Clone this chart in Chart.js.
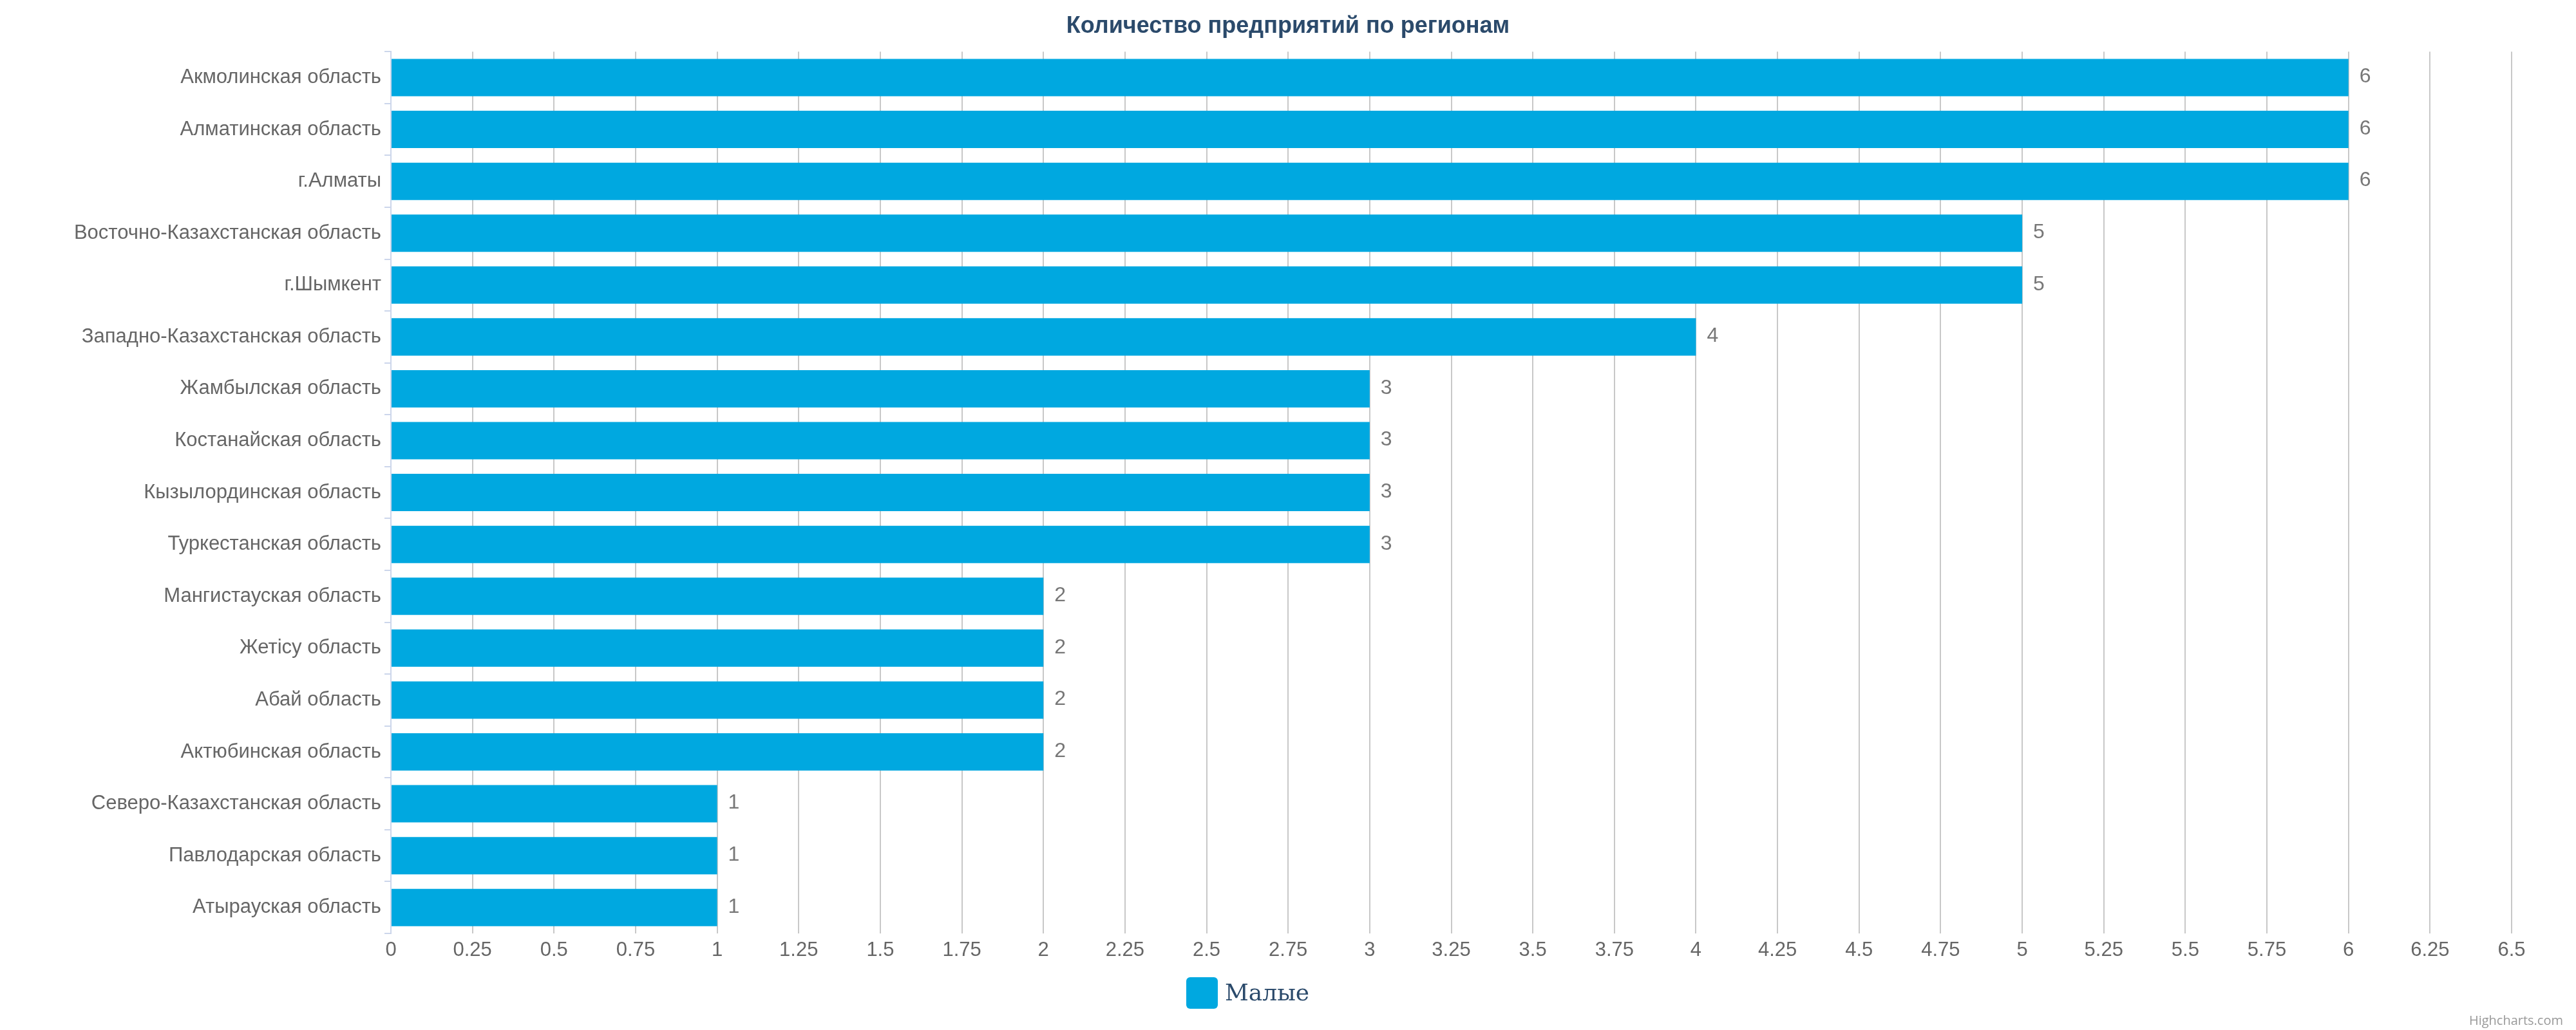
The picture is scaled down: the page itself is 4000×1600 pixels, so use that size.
<!DOCTYPE html>
<html>
<head>
<meta charset="utf-8">
<script src="https://cdn.jsdelivr.net/npm/chart.js@4/dist/chart.umd.min.js"></script>
<style>
html,body{margin:0;padding:0;background:#fff;}
#wrap{width:4000px;height:1600px;}
</style>
</head>
<body>
<div id="wrap"><canvas id="c" width="4000" height="1600"></canvas></div>
<script>
const categories = [
  "Акмолинская область",
  "Алматинская область",
  "г.Алматы",
  "Восточно-Казахстанская область",
  "г.Шымкент",
  "Западно-Казахстанская область",
  "Жамбылская область",
  "Костанайская область",
  "Кызылординская область",
  "Туркестанская область",
  "Мангистауская область",
  "Жетісу область",
  "Абай область",
  "Актюбинская область",
  "Северо-Казахстанская область",
  "Павлодарская область",
  "Атырауская область"
];
const seriesName = "Малые";
const seriesValues = [6, 6, 6, 5, 5, 4, 3, 3, 3, 3, 2, 2, 2, 2, 1, 1, 1];
const chartTitle = "Количество предприятий по регионам";
const creditText = "Highcharts.com";
const xMin = 0, xMax = 6.5, xStep = 0.25;

const BAR = '#00a8e0';
const LABEL_FONT = '"Liberation Sans Narrow", "Liberation Sans", sans-serif';

const dataLabels = {
  id: 'dataLabels',
  afterDatasetsDraw(chart) {
    const ctx = chart.ctx;
    const meta = chart.getDatasetMeta(0);
    ctx.save();
    ctx.font = '32px ' + LABEL_FONT;
    ctx.fillStyle = '#777777';
    ctx.textAlign = 'left';
    ctx.textBaseline = 'middle';
    meta.data.forEach((bar, i) => {
      ctx.fillText(String(chart.data.datasets[0].data[i]), bar.x + 17, bar.y - 1);
    });
    ctx.restore();
  }
};

const customLegendAndCredits = {
  id: 'customLegendAndCredits',
  afterDraw(chart) {
    const ctx = chart.ctx;
    ctx.save();
    const ds = chart.data.datasets[0];
    const boxX = 1842, boxY = 1518, boxS = 49;
    ctx.fillStyle = ds.backgroundColor;
    ctx.beginPath();
    ctx.roundRect(boxX, boxY, boxS, boxS, 6);
    ctx.fill();
    ctx.font = '36px "DejaVu Serif", serif';
    ctx.fillStyle = '#2b4a6b';
    ctx.textAlign = 'left';
    ctx.textBaseline = 'middle';
    ctx.fillText(ds.label, boxX + boxS + 11, boxY + boxS / 2 + 2);
    ctx.font = '20px "Open Sans", sans-serif';
    ctx.fillStyle = '#999999';
    ctx.textAlign = 'right';
    ctx.textBaseline = 'alphabetic';
    ctx.fillText(creditText, 3980, 1592);
    ctx.restore();
  }
};

new Chart(document.getElementById('c'), {
  type: 'bar',
  data: {
    labels: categories,
    datasets: [{
      label: seriesName,
      data: seriesValues,
      backgroundColor: BAR,
      borderWidth: 0,
      categoryPercentage: 1.0,
      barPercentage: 0.72
    }]
  },
  options: {
    indexAxis: 'y',
    responsive: false,
    animation: false,
    devicePixelRatio: 1,
    layout: { padding: { left: 100, right: 100, top: 0, bottom: 90 } },
    plugins: {
      legend: { display: false },
      tooltip: { enabled: false },
      title: {
        display: true,
        text: chartTitle,
        color: '#2b4a6b',
        font: { family: LABEL_FONT, size: 36, weight: 'bold', lineHeight: 1.2 },
        padding: { top: 19, bottom: 18 }
      }
    },
    scales: {
      x: {
        type: 'linear',
        min: xMin,
        max: xMax,
        afterFit(scale) { scale.height = 60; },
        ticks: {
          stepSize: xStep,
          autoSkip: false,
          maxRotation: 0,
          padding: 8,
          color: '#666666',
          font: { family: LABEL_FONT, size: 31 },
          callback: (v) => String(Math.round(v * 100) / 100)
        },
        grid: {
          color: '#c8c8c8',
          lineWidth: 2,
          drawTicks: false,
          tickLength: 0
        },
        border: { display: false }
      },
      y: {
        afterFit(scale) { scale.width = 507; },
        ticks: {
          autoSkip: false,
          padding: 5,
          color: '#666666',
          font: { family: LABEL_FONT, size: 31 }
        },
        grid: {
          offset: true,
          drawOnChartArea: false,
          drawTicks: true,
          tickLength: 10,
          color: '#ccd6eb',
          lineWidth: 2
        },
        border: { display: true, color: '#ccd6eb', width: 2 }
      }
    }
  },
  plugins: [dataLabels, customLegendAndCredits]
});
</script>
</body>
</html>
